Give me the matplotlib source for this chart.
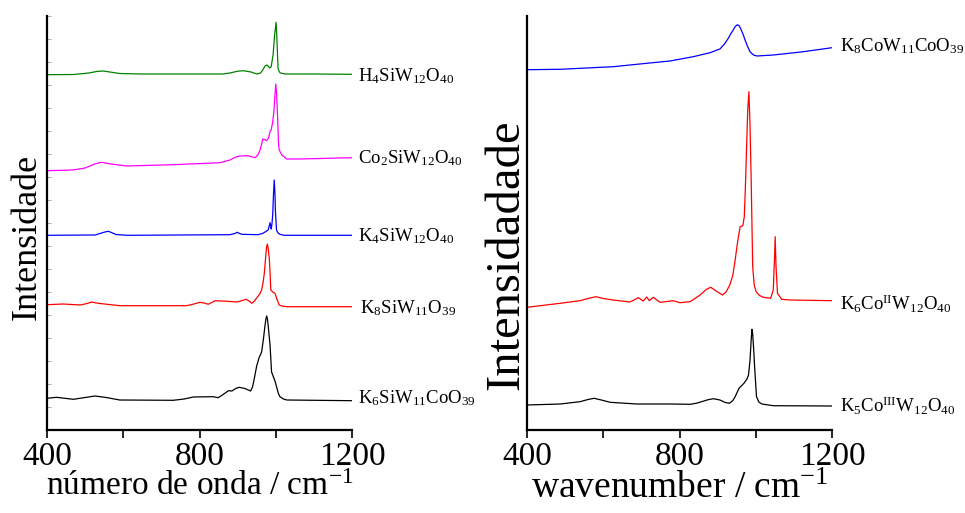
import numpy as np
import matplotlib
matplotlib.use("Agg")
import matplotlib.pyplot as plt
from matplotlib.ticker import MultipleLocator, NullFormatter

plt.rcParams["font.family"] = "Liberation Serif"
plt.rcParams["mathtext.fontset"] = "custom"
plt.rcParams["mathtext.rm"] = "Liberation Serif"
plt.rcParams["mathtext.it"] = "Liberation Serif:italic"

# ── Left panel spectra (wavenumber, intensity in arbitrary offset units) ──────
h4_wn = [400, 470, 510, 530, 547, 565, 590, 650, 750, 860, 880, 900, 915, 935, 951, 960, 966, 972,
         976, 980, 984, 988, 993, 997, 1001, 1003, 1006, 1009, 1012, 1025, 1100, 1200]
h4_i  = [355.3, 355.5, 357, 358.5, 359, 358, 356.5, 356, 356, 356, 357, 358.8, 359.3, 358, 356, 357, 360, 364,
         365, 364, 362, 363.3, 375, 395, 407.7, 392, 361.7, 358.5, 357, 356, 356, 355.7]

co2_wn = [400, 468, 500, 525, 543, 560, 578, 609, 730, 854, 880, 895, 906, 927, 940, 946, 953, 959, 963, 966,
          971, 976, 981, 985, 988, 992, 995, 998, 1000, 1002, 1005, 1007, 1009, 1016, 1029, 1064, 1200]
co2_i  = [259.3, 260, 262, 266, 267.7, 266.5, 265.5, 264, 265.3, 267.3, 270, 273, 274, 274.3, 273, 272.3, 275, 280,
          286, 291, 290.5, 289.3, 292, 298.3, 300, 308, 318, 335, 346, 338, 312, 288.3, 280, 275, 271, 271, 272.3]

k4_wn = [400, 526, 539, 552, 561, 570, 581, 610, 880, 893, 899, 905, 911, 953, 965, 972, 980, 983, 985, 987,
         988, 990, 992, 994, 996, 998, 999, 1002, 1006, 1011, 1022, 1200]
k4_i  = [194.7, 195, 196.5, 198, 198.7, 197.3, 195.5, 194.7, 195.3, 196.5, 197.7, 196.5, 195.7, 195.3, 196.5, 198, 200, 204,
         207.3, 204, 201, 206, 215, 235, 250, 236, 220, 200, 197, 195.7, 194.7, 194.7]

k8_wn = [400, 442, 487, 505, 517, 530, 539, 591, 766, 785, 801, 812, 823, 832, 841, 870, 898, 912, 922, 930, 937, 943,
         948, 954, 959, 963, 967, 970, 974, 976, 978, 980, 983, 985, 987, 992, 998, 1003, 1009, 1016, 1029, 1200]
k8_i  = [125.3, 126, 125, 126.5, 128, 127, 126.5, 124.3, 124.3, 126, 127.7, 127, 125.7, 127.5, 129.3, 128.8, 128, 129.5, 130.7, 129, 126.7, 128.5,
         131, 134, 136.7, 140, 148, 156.7, 175, 183, 186, 182, 172, 158, 140, 138, 136.7, 131, 125, 124, 123.3, 123.3]

k6co_wn = [400, 425, 469, 500, 526, 555, 591, 731, 760, 784, 836, 849, 862, 876, 885, 895, 904, 919, 934, 939, 943,
           947, 950, 956, 963, 968, 972, 974, 976, 978, 980, 985, 989, 994, 998, 1003, 1007, 1011, 1020, 1029, 1200]
k6co_i  = [31.7, 32.7, 30.7, 32.5, 34, 32.5, 30, 29.7, 31, 33, 33.3, 32.3, 35.5, 39.3, 39, 41.5, 42.7, 41.5, 39, 43, 50,
           58, 64, 72, 78, 92, 105, 110.5, 114, 111.5, 105, 85, 58, 53, 49, 42, 36.5, 33.3, 31, 30, 29.3]

# ── Right panel spectra ───────────────────────────────────────────────────────
k8cow_wn = [400, 487, 626, 714, 775, 836, 880, 906, 918, 928, 935, 941, 946, 952, 957, 962, 967, 972, 978, 985,
            994, 1003, 1046, 1125, 1200]
k8cow_i  = [360.3, 360.7, 363.3, 366.7, 369, 373.3, 377.3, 381, 386, 391.7, 396.5, 400, 403.5, 405.3, 404, 400, 395.5, 390, 384, 378.3,
            375, 374, 375, 378.3, 382.3]

k6coii_wn = [400, 487, 539, 560, 581, 600, 626, 670, 692, 705, 714, 721, 731, 749, 784, 801, 828,
             854, 870, 882, 896, 913, 922, 932, 940, 946, 952, 959, 966, 970, 973, 976, 979, 982, 985, 988, 992,
             996, 1001, 1010, 1020, 1039, 1046, 1049, 1051, 1053, 1057, 1068, 1090, 1200]
k6coii_i  = [122.7, 126.7, 129.3, 131.5, 133.3, 131.5, 130, 128, 132.3, 129, 133, 129.3, 132.7, 127.7, 129.3, 127.3, 128.3,
             135, 140.5, 142.7, 139, 135, 138, 145, 155, 170, 187, 203.3, 204.3, 213.3, 245, 283.3, 320, 338.3, 305, 250, 163.3,
             145, 138.3, 134.5, 132.7, 131.7, 140, 170, 193.3, 165, 136.7, 130.7, 130, 129.3]

k5coiii_wn = [400, 487, 539, 560, 576, 595, 618, 688, 775, 828, 845, 858, 875, 889, 906, 920, 931, 940, 946, 956, 969,
              977, 981, 985, 988, 990, 992, 995, 997, 1000, 1002, 1008, 1016, 1046, 1200]
k5coiii_i  = [25, 26, 28.3, 30.5, 31.7, 30, 27.7, 26, 26, 25.7, 26.8, 28.3, 30.3, 31.3, 30, 27.5, 26.7, 29.5, 33.3, 41.7, 46.7,
              51, 55, 70, 90, 100.7, 96, 78, 63.3, 45, 33.3, 28, 26, 24.3, 24]

left_series = [
    (h4_wn, h4_i, "#008000", r"$\mathrm{H_4SiW_{12}O_{40}}$", 358, 76),
    (co2_wn, co2_i, "#ff00ff", r"$\mathrm{Co_2SiW_{12}O_{40}}$", 358, 158),
    (k4_wn, k4_i, "#0000ff", r"$\mathrm{K_4SiW_{12}O_{40}}$", 358, 236),
    (k8_wn, k8_i, "#ff0000", r"$\mathrm{K_8SiW_{11}O_{39}}$", 360, 308),
    (k6co_wn, k6co_i, "black", r"$\mathrm{K_6SiW_{11}CoO_{39}}$", 358, 398),
]
right_series = [
    (k8cow_wn, k8cow_i, "#0000ff", r"$\mathrm{K_8CoW_{11}CoO_{39}}$", 840, 46),
    (k6coii_wn, k6coii_i, "#ff0000", r"$\mathrm{K_6Co^{II}W_{12}O_{40}}$", 840, 304),
    (k5coiii_wn, k5coiii_i, "black", r"$\mathrm{K_5Co^{III}W_{12}O_{40}}$", 840, 406),
]

W, H = 965, 513
fig = plt.figure(figsize=(W / 100, H / 100), dpi=100)

def make_axes(x0, x1, series, yticks):
    ax = fig.add_axes([x0 / W, (H - 430) / H, (x1 - x0) / W, (430 - 16) / H])
    for wn, inten, col, lab, tx, ty in series:
        ax.plot(wn, inten, color=col, lw=0.9)
        fig.text(tx / W, 1 - ty / H, lab, fontsize=13.5, va="center", ha="left")
    ax.set_xlim(400, 1200)
    ax.set_ylim(0, 414)
    for s in ["top", "right"]:
        ax.spines[s].set_visible(False)
    for s in ["left", "bottom"]:
        ax.spines[s].set_linewidth(1.6)
    ax.xaxis.set_major_locator(MultipleLocator(400))
    ax.xaxis.set_minor_locator(MultipleLocator(200))
    ax.xaxis.set_minor_formatter(NullFormatter())
    ax.tick_params(axis="x", which="both", direction="out", length=6, width=1.2,
                   labelsize=24, pad=2)
    if yticks:
        ax.yaxis.set_major_locator(MultipleLocator(23))
        ax.tick_params(axis="y", direction="in", length=3, width=0.5, color="#888888",
                       labelleft=False)
    else:
        ax.set_yticks([])
    return ax

ax1 = make_axes(47, 352, left_series, True)
ax1.set_ylabel("Intensidade", fontsize=26)
ax1.yaxis.set_label_coords(-0.01, (430 - 237) / 414)
ax1.set_xlabel("número de onda / cm$^{-1}$", fontsize=24, labelpad=0)

ax2 = make_axes(527, 832, right_series, False)
ax2.set_ylabel("Intensidadade", fontsize=35)
ax2.yaxis.set_label_coords(0.004, (430 - 255) / 414)
ax2.set_xlabel("wavenumber / cm$^{-1}$", fontsize=27, labelpad=0)

fig.savefig("out.png", dpi=100)
